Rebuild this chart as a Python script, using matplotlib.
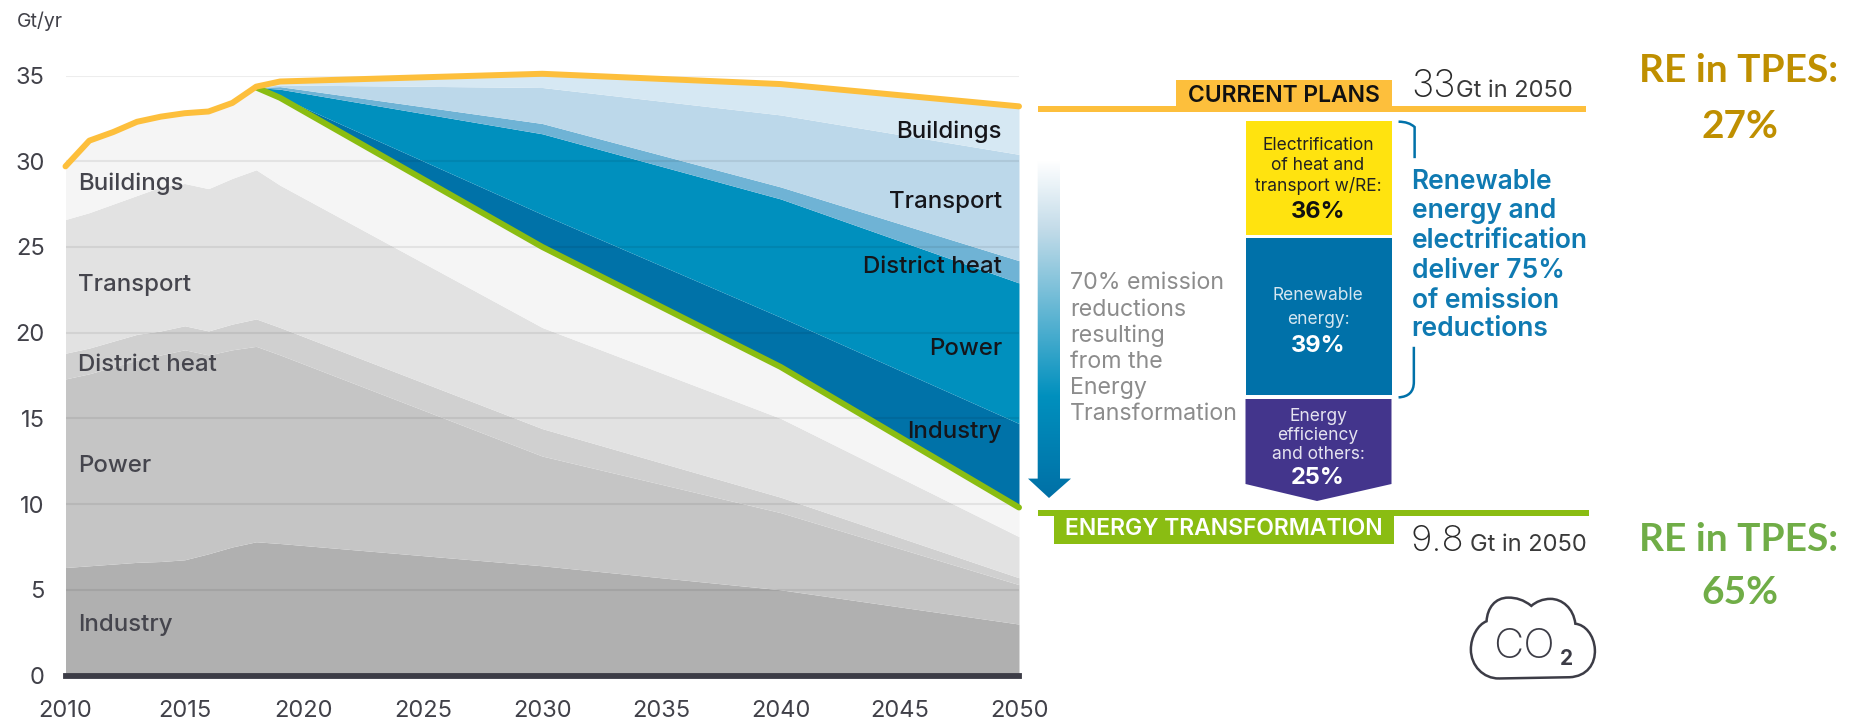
import matplotlib
matplotlib.use("Agg")
import matplotlib.pyplot as plt
import numpy as np
from matplotlib.path import Path
from matplotlib.patches import PathPatch, Polygon, Rectangle
from matplotlib.colors import LinearSegmentedColormap

FONT = "Inter"
plt.rcParams["font.family"] = [FONT, "DejaVu Sans"]

years = [2010, 2011, 2012, 2013, 2014, 2015, 2016, 2017, 2018, 2019, 2030, 2040, 2050]

grey_industry = [6.3, 6.4, 6.5, 6.6, 6.65, 6.75, 7.1, 7.5, 7.8, 7.7, 6.4, 5.0, 3.0]
grey_power = [17.3, 17.6, 18.0, 18.4, 18.7, 19.0, 18.7, 19.0, 19.2, 18.7, 12.8, 9.5, 5.3]
grey_district = [18.8, 19.1, 19.5, 19.9, 20.1, 20.4, 20.1, 20.5, 20.8, 20.3, 14.4, 10.4, 5.7]
grey_transport = [26.6, 27.0, 27.5, 28.0, 28.5, 28.7, 28.4, 29.0, 29.5, 28.6, 20.3, 15.0, 8.1]

current_plans = [29.7, 31.2, 31.7, 32.3, 32.6, 32.8, 32.9, 33.4, 34.35, 34.65, 35.1, 34.5, 33.2]
transformation_years = [2018, 2019, 2030, 2040, 2050]
transformation = [34.3, 33.7, 25.0, 18.0, 9.8]
blue_industry = [34.3, 33.75, 26.9, 20.9, 14.7]
blue_power = [34.3, 34.2, 31.6, 27.8, 22.9]
blue_district = [34.3, 34.35, 32.2, 28.5, 24.2]
blue_transport = [34.3, 34.45, 34.3, 32.7, 30.4]
blue_buildings = [34.35, 34.65, 35.1, 34.5, 33.2]

x_ticks = [2010, 2015, 2020, 2025, 2030, 2035, 2040, 2045, 2050]
y_ticks = [0, 5, 10, 15, 20, 25, 30, 35]
left_labels = ["Buildings", "Transport", "District heat", "Power", "Industry"]
right_labels = ["Buildings", "Transport", "District heat", "Power", "Industry"]

W, H = 1863, 723
fig = plt.figure(figsize=(W / 100, H / 100), dpi=100, facecolor="white")
ax = fig.add_axes([65.5 / W, (H - 675.5) / H, (1019 - 65.5) / W, 600 / H])
ax.set_xlim(2010, 2050)
ax.set_ylim(0, 35)
for s in ax.spines.values():
    s.set_visible(False)

# grey stack
tr_full = np.interp(years, transformation_years, transformation)
upper = np.where(np.array(years) <= 2018, np.array(current_plans), tr_full)
ax.fill_between(years, 0, grey_industry, color="#b0b0b0", lw=0, zorder=1)
ax.fill_between(years, grey_industry, grey_power, color="#c5c5c5", lw=0, zorder=1)
ax.fill_between(years, grey_power, grey_district, color="#d0d0d0", lw=0, zorder=1)
ax.fill_between(years, grey_district, grey_transport, color="#e2e2e2", lw=0, zorder=1)
ax.fill_between(years, grey_transport, upper, color="#f5f5f5", lw=0, zorder=1)

# blue stack
ax.fill_between(transformation_years, transformation, blue_industry, color="#0072a8", lw=0, zorder=1)
ax.fill_between(transformation_years, blue_industry, blue_power, color="#0090be", lw=0, zorder=1)
ax.fill_between(transformation_years, blue_power, blue_district, color="#6fb3d5", lw=0, zorder=1)
ax.fill_between(transformation_years, blue_district, blue_transport, color="#bcd8ea", lw=0, zorder=1)
ax.fill_between(transformation_years, blue_transport, blue_buildings, color="#d6e8f3", lw=0, zorder=1)

ax.set_axisbelow(False)
ax.yaxis.grid(True, color="black", alpha=0.07, lw=1.5)
ax.xaxis.grid(False)
ax.axhline(0, color="#3c3c46", lw=4.2, zorder=3, clip_on=False)

ax.plot(transformation_years, transformation, color="#8abd12", lw=4.3, zorder=4,
        clip_on=False, solid_capstyle="round")
ax.plot(years, current_plans, color="#fdbf3c", lw=4.3, zorder=5,
        clip_on=False, solid_capstyle="round")

ax.set_xticks(x_ticks)
ax.set_yticks(y_ticks)
ax.tick_params(length=0, labelsize=17, labelcolor="#414149")
ax.tick_params(axis="x", pad=17.5)
ax.tick_params(axis="y", pad=15)

# overlay in pixel coordinates
ov = fig.add_axes([0, 0, 1, 1], zorder=10)
ov.set_axis_off()
ov.patch.set_alpha(0)


def T(x, y, s, size, color="#1a1a1a", ha="left", va="center", weight="normal", family=None):
    kw = {"family": family} if family else {}
    return ov.text(x, y, s, fontsize=size, color=color, ha=ha, va=va, fontweight=weight, **kw)


def zx(v):
    return 1030 + v / 2.613


def zy(v):
    return 40 + v / 2.412


T(16.5, 21, "Gt/yr", 14, "#414149")
for s, y in zip(left_labels, [184, 285, 365, 466, 624.5]):
    T(78, y, s, 17.3, "#45454d", weight="medium")
for s, y in zip(right_labels, [132, 202, 267, 349, 432]):
    T(1002, y, s, 17.3, "#15151a", ha="right", weight="medium")

# lines + labels
ov.add_patch(Rectangle((1037.5, 106.2), 548, 6, color="#fdbf3c", lw=0))
ov.add_patch(Rectangle((1176, 79.5), 215.5, 28, color="#fdbf3c", lw=0))
T(1283.5, 95.5, "CURRENT PLANS", 16.5, "#111111", ha="center", weight="semibold")
T(1411, 97, "33", 27, "#2a2a2a", va="baseline", weight="light")
T(1455.5, 97, "Gt in 2050", 17, "#3a3a3a", va="baseline")

ov.add_patch(Rectangle((1037.5, 509.6), 551, 6, color="#8abd12", lw=0))
ov.add_patch(Rectangle((1053.7, 512), 340, 31.7, color="#8abd12", lw=0))
T(1223.5, 529, "ENERGY TRANSFORMATION", 16.5, "white", ha="center", weight="semibold")
T(1410.5, 551, "9.8", 26.5, "#2a2a2a", va="baseline", weight="light")
T(1470, 551, "Gt in 2050", 17, "#3a3a3a", va="baseline")

# stacked boxes
ov.add_patch(Rectangle((1245.5, 121), 146, 114, color="#ffe30f", lw=0))
ov.add_patch(Rectangle((1245.5, 238), 146, 157, color="#0071a9", lw=0))
ov.add_patch(Polygon([(1245.5, 399), (1391.5, 399), (1391.5, 484), (1317, 501), (1245.5, 484)],
                     closed=True, color="#43358c", lw=0))
cx = 1318
for s, y in zip(["Electrification", "of heat and", "transport w/RE:"], [146, 166, 186]):
    T(cx, y, s, 12.5, "#222222", ha="center")
T(cx, 212.5, "36%", 17, "#111111", ha="center", weight="bold")
for s, y in zip(["Renewable", "energy:"], [296, 319.5]):
    T(cx, y, s, 12.5, "#d5e6f0", ha="center")
T(cx, 345.5, "39%", 17, "white", ha="center", weight="bold")
for s, y in zip(["Energy", "efficiency", "and others:"], [416.5, 435, 454.5]):
    T(cx, y, s, 12.5, "#e5e3f0", ha="center")
T(cx, 478.5, "25%", 17, "white", ha="center", weight="bold")

# bracket
br = "#0071a9"
p1 = Path([(zx(963), zy(197)), (zx(990), zy(197)), (zx(1005), zy(210)), (zx(1005), zy(240)), (zx(1005), zy(285))],
          [Path.MOVETO, Path.CURVE3, Path.CURVE3, Path.LINETO, Path.LINETO])
p2 = Path([(zx(1003), zy(740)), (zx(1003), zy(825)), (zx(1003), zy(860)), (zx(963), zy(862))],
          [Path.MOVETO, Path.LINETO, Path.CURVE3, Path.CURVE3])
for p in (p1, p2):
    ov.add_patch(PathPatch(p, fc="none", ec=br, lw=1.8))
for s, y in zip(["Renewable", "energy and", "electrification", "deliver 75%", "of emission", "reductions"],
                [182, 211, 240.5, 270.5, 300.5, 329.5]):
    T(1411.5, y, s, 19, "#0f7ab2", weight="semibold")

# grey caption
for s, y in zip(["70% emission", "reductions", "resulting", "from the", "Energy", "Transformation"],
                [283, 310, 336, 361.5, 388, 413.5]):
    T(1070, y, s, 16.7, "#8c8c8c")

# gradient arrow
cmap = LinearSegmentedColormap.from_list("arr", [(0, "#ffffff"), (0.2, "#c4dce9"), (0.7, "#0090be"), (1, "#0070a6")])
grad = np.linspace(0, 1, 256)[:, None]
im = ov.imshow(grad, cmap=cmap, extent=(1028, 1071, 498, 160), aspect="auto", zorder=2)
arrow = Polygon([(1037.7, 160), (1060, 160), (1060, 478.6), (1071, 478.6), (1049, 498), (1028, 478.6), (1037.7, 478.6)],
                closed=True, transform=ov.transData, fc="none", ec="none")
ov.add_patch(arrow)
im.set_clip_path(arrow)

# CO2 cloud
cloud = [(1225, 1540), (1410, 1537),
         (1455, 1535), (1478, 1505), (1476, 1470),
         (1474, 1435), (1450, 1410), (1425, 1408),
         (1420, 1370), (1390, 1348), (1360, 1348),
         (1340, 1348), (1322, 1355), (1310, 1365),
         (1290, 1350), (1270, 1345), (1250, 1345),
         (1215, 1345), (1195, 1370), (1193, 1402),
         (1170, 1410), (1152, 1440), (1152, 1470),
         (1152, 1510), (1185, 1540), (1225, 1540)]
codes = [Path.MOVETO, Path.LINETO] + [Path.CURVE4] * 24
ov.add_patch(PathPatch(Path([(zx(a), zy(b)) for a, b in cloud], codes), fc="none", ec="#3c3c46", lw=1.8))
T(zx(1290), zy(1455) + 4, "CO", 30, "#3c3c46", ha="center", weight="light")
T(zx(1402), zy(1492), "2", 15, "#3c3c46", ha="center", weight="bold")

# right-hand notes
gold, green = "#bf8f00", "#70ad47"
T(1739, 71, "RE in TPES:", 28, gold, ha="center", weight="bold", family="Lato")
T(1740, 126, "27%", 28, gold, ha="center", weight="bold", family="Lato")
T(1739, 539.5, "RE in TPES:", 28, green, ha="center", weight="bold", family="Lato")
T(1740, 592, "65%", 28, green, ha="center", weight="bold", family="Lato")

ov.set_xlim(0, W)
ov.set_ylim(H, 0)

fig.savefig("out.png", dpi=100)
